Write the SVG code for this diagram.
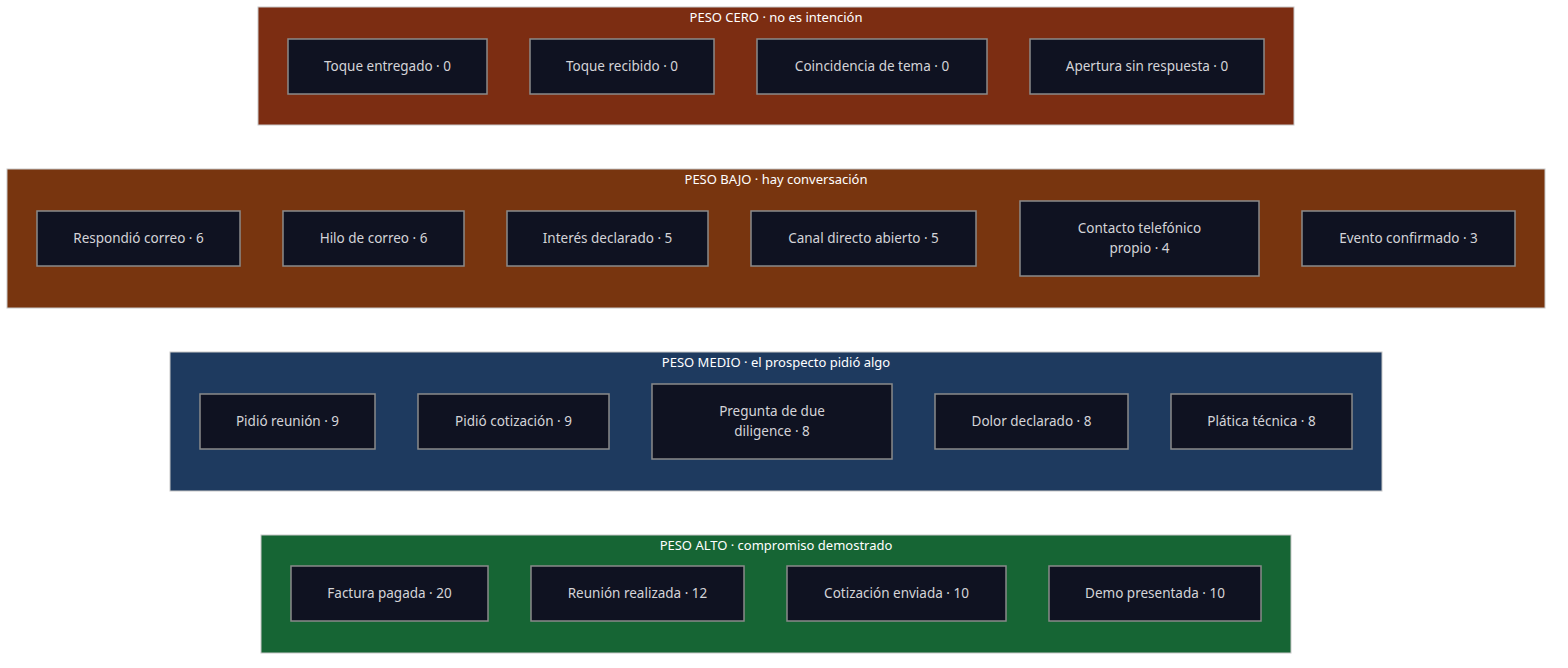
<svg xmlns="http://www.w3.org/2000/svg" width="1568" height="668" viewBox="0 0 1568 668">
<style>
.c{stroke:#c8c8c8;stroke-width:1}
.t{font-family:"Noto Sans","Open Sans",sans-serif;font-size:13px;fill:#ffffff;text-anchor:middle}
.n rect{fill:#0f1221;stroke:#8a8a8a;stroke-width:1.5}
.n text{font-family:"Noto Sans","Open Sans",sans-serif;font-size:13.5px;fill:#d4d4d8;text-anchor:middle}
</style>
<rect width="1568" height="668" fill="#ffffff"/>
<g id="cero">
<rect class="c" x="258" y="7" width="1036" height="118" fill="#7c2d12"/>
<text class="t" x="776" y="22">PESO CERO · no es intención</text>
</g>
<g id="bajo">
<rect class="c" x="7" y="169" width="1538" height="139" fill="#78350f"/>
<text class="t" x="776" y="184">PESO BAJO · hay conversación</text>
</g>
<g id="medio">
<rect class="c" x="170" y="352" width="1212" height="139" fill="#1e3a5f"/>
<text class="t" x="776" y="367">PESO MEDIO · el prospecto pidió algo</text>
</g>
<g id="alto">
<rect class="c" x="261" y="535" width="1030" height="118" fill="#166534"/>
<text class="t" x="776" y="550">PESO ALTO · compromiso demostrado</text>
</g>
<g id="n1" class="n"><rect x="288" y="39" width="199" height="55"/><text x="387.5" y="71">Toque entregado · 0</text></g>
<g id="n2" class="n"><rect x="530" y="39" width="184" height="55"/><text x="622" y="71">Toque recibido · 0</text></g>
<g id="n3" class="n"><rect x="757" y="39" width="230" height="55"/><text x="872" y="71">Coincidencia de tema · 0</text></g>
<g id="n4" class="n"><rect x="1030" y="39" width="234" height="55"/><text x="1147" y="71">Apertura sin respuesta · 0</text></g>
<g id="n5" class="n"><rect x="37" y="211" width="203" height="55"/><text x="138.5" y="243">Respondió correo · 6</text></g>
<g id="n6" class="n"><rect x="283" y="211" width="181" height="55"/><text x="373.5" y="243">Hilo de correo · 6</text></g>
<g id="n7" class="n"><rect x="507" y="211" width="201" height="55"/><text x="607.5" y="243">Interés declarado · 5</text></g>
<g id="n8" class="n"><rect x="751" y="211" width="225" height="55"/><text x="863.5" y="243">Canal directo abierto · 5</text></g>
<g id="n9" class="n"><rect x="1020" y="201" width="239" height="75"/><text x="1139.5" y="233">Contacto telefónico</text><text x="1139.5" y="253">propio · 4</text></g>
<g id="n10" class="n"><rect x="1302" y="211" width="213" height="55"/><text x="1408.5" y="243">Evento confirmado · 3</text></g>
<g id="n11" class="n"><rect x="200" y="394" width="175" height="55"/><text x="287.5" y="426">Pidió reunión · 9</text></g>
<g id="n12" class="n"><rect x="418" y="394" width="191" height="55"/><text x="513.5" y="426">Pidió cotización · 9</text></g>
<g id="n13" class="n"><rect x="652" y="384" width="240" height="75"/><text x="772" y="416">Pregunta de due</text><text x="772" y="436">diligence · 8</text></g>
<g id="n14" class="n"><rect x="935" y="394" width="193" height="55"/><text x="1031.5" y="426">Dolor declarado · 8</text></g>
<g id="n15" class="n"><rect x="1171" y="394" width="181" height="55"/><text x="1261.5" y="426">Plática técnica · 8</text></g>
<g id="n16" class="n"><rect x="291" y="566" width="197" height="55"/><text x="389.5" y="598">Factura pagada · 20</text></g>
<g id="n17" class="n"><rect x="531" y="566" width="213" height="55"/><text x="637.5" y="598">Reunión realizada · 12</text></g>
<g id="n18" class="n"><rect x="787" y="566" width="219" height="55"/><text x="896.5" y="598">Cotización enviada · 10</text></g>
<g id="n19" class="n"><rect x="1049" y="566" width="212" height="55"/><text x="1155" y="598">Demo presentada · 10</text></g>
<g id="connectors"/>
</svg>
